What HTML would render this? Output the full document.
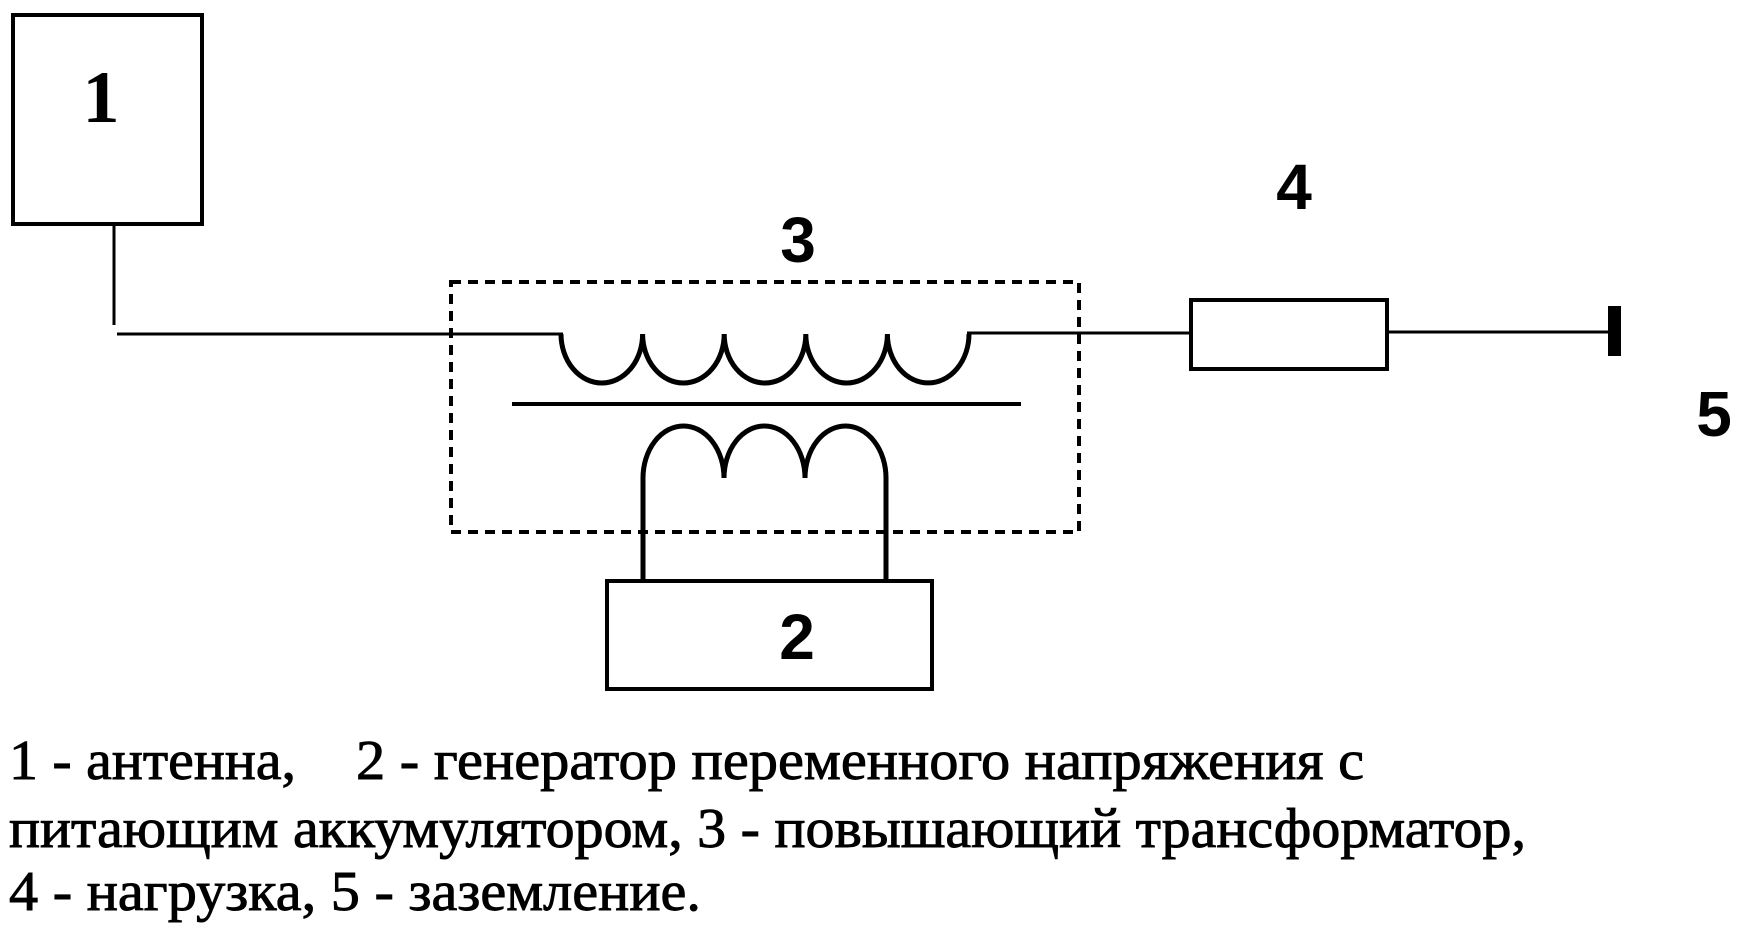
<!DOCTYPE html>
<html>
<head>
<meta charset="utf-8">
<style>
  html, body { margin: 0; padding: 0; background: #fff; }
  body { width: 1748px; height: 937px; overflow: hidden; }
  svg { display: block; }
  .lbl { font-family: "Liberation Sans", "DejaVu Sans", sans-serif; font-weight: bold; font-size: 64px; fill: #000; }
  .cap { font-family: "Liberation Serif", "DejaVu Serif", serif; font-size: 56px; fill: #000; stroke: #000; stroke-width: 0.9px; }
  .one { font-family: "Liberation Serif", "DejaVu Serif", serif; font-weight: bold; font-size: 74px; fill: #000; }
</style>
</head>
<body>
<svg width="1748" height="937" viewBox="0 0 1748 937" xmlns="http://www.w3.org/2000/svg">
  <rect x="0" y="0" width="1748" height="937" fill="#fff"/>

  <!-- Box 1 (antenna) -->
  <rect x="13" y="15" width="189" height="209" fill="none" stroke="#000" stroke-width="4"/>
  <text class="one" x="101" y="122" text-anchor="middle">1</text>

  <!-- antenna lead -->
  <line x1="114" y1="224" x2="114" y2="325" stroke="#000" stroke-width="3"/>
  <line x1="117" y1="334" x2="563" y2="334" stroke="#000" stroke-width="3"/>

  <!-- Transformer dashed frame -->
  <rect x="451" y="282" width="628" height="250" fill="none" stroke="#000" stroke-width="4" stroke-dasharray="10 7"/>

  <!-- Primary coil -->
  <path d="M561,334 A40.8 49 0 0 0 642.6,334 A40.8 49 0 0 0 724.2,334 A40.8 49 0 0 0 805.8,334 A40.8 49 0 0 0 887.4,334 A40.8 49 0 0 0 969,334"
        fill="none" stroke="#000" stroke-width="5" stroke-linejoin="miter"/>

  <!-- Core -->
  <line x1="512" y1="404" x2="1021" y2="404" stroke="#000" stroke-width="4"/>

  <!-- Secondary coil -->
  <path d="M643,580 L643,478 A40.5 52 0 0 1 724,478 A40.5 52 0 0 1 805,478 A40.5 52 0 0 1 886,478 L886,580"
        fill="none" stroke="#000" stroke-width="5"/>

  <!-- Box 2 (generator) -->
  <rect x="607" y="581" width="325" height="108" fill="none" stroke="#000" stroke-width="4"/>
  <text class="lbl" x="797" y="659" text-anchor="middle">2</text>

  <!-- Label 3 -->
  <text class="lbl" x="798" y="262" text-anchor="middle">3</text>

  <!-- Line to load -->
  <line x1="967" y1="333" x2="1191" y2="333" stroke="#000" stroke-width="3"/>

  <!-- Box 4 (load) -->
  <rect x="1191" y="300" width="196" height="69" fill="none" stroke="#000" stroke-width="4"/>
  <text class="lbl" x="1294" y="209" text-anchor="middle">4</text>

  <!-- Line to ground -->
  <line x1="1387" y1="332" x2="1610" y2="332" stroke="#000" stroke-width="3"/>
  <rect x="1608" y="306" width="13" height="50" fill="#000"/>
  <text class="lbl" x="1714" y="436" text-anchor="middle">5</text>

  <!-- Caption -->
  <text class="cap" x="9" y="779" textLength="287" lengthAdjust="spacingAndGlyphs">1 - антенна,</text>
  <text class="cap" x="356" y="779" textLength="1008" lengthAdjust="spacingAndGlyphs">2 - генератор переменного напряжения с</text>
  <text class="cap" x="9" y="847" textLength="1517" lengthAdjust="spacingAndGlyphs">питающим аккумулятором, 3 - повышающий трансформатор,</text>
  <text class="cap" x="9" y="910" textLength="692" lengthAdjust="spacingAndGlyphs">4 - нагрузка, 5 - заземление.</text>
</svg>
</body>
</html>
